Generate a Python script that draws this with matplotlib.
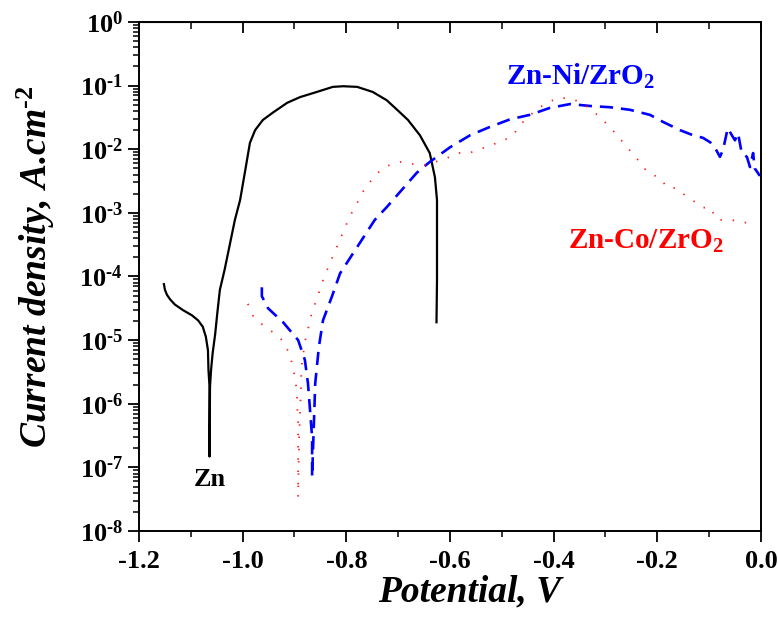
import numpy as np
import matplotlib.pyplot as plt
from matplotlib.ticker import MultipleLocator, LogLocator, NullFormatter, FuncFormatter

plt.rcParams['font.family'] = 'Liberation Serif'
plt.rcParams['font.weight'] = 'bold'
plt.rcParams['mathtext.fontset'] = 'custom'
plt.rcParams['mathtext.rm'] = 'Liberation Serif:bold'
plt.rcParams['mathtext.it'] = 'Liberation Serif:bold:italic'
plt.rcParams['mathtext.bf'] = 'Liberation Serif:bold'

# Zn (black, solid): potential in V, log10 of current density
zn_e = [-1.152, -1.150, -1.146, -1.140, -1.131, -1.115, -1.098, -1.086,
        -1.077, -1.071, -1.067, -1.066, -1.064, -1.064, -1.063, -1.061,
        -1.058, -1.053, -1.049, -1.044, -1.035, -1.015, -1.005, -0.995,
        -0.986, -0.976, -0.961, -0.941, -0.914, -0.889, -0.857, -0.826,
        -0.806, -0.779, -0.749, -0.722, -0.702, -0.681, -0.658, -0.639,
        -0.629, -0.625, -0.625, -0.626]
zn_logi = [-4.12, -4.21, -4.29, -4.36, -4.44, -4.53, -4.61, -4.69,
           -4.79, -4.95, -5.16, -5.47, -5.73, -6.83, -5.73, -5.47,
           -5.21, -4.90, -4.58, -4.21, -3.90, -3.11, -2.80, -2.33,
           -1.90, -1.70, -1.54, -1.42, -1.27, -1.18, -1.10, -1.02,
           -1.01, -1.02, -1.10, -1.23, -1.38, -1.54, -1.78, -2.06,
           -2.44, -2.80, -4.06, -4.72]

# Zn-Ni/ZrO2 (blue, dashed)
ni_e = [-0.963, -0.963, -0.951, -0.922, -0.893, -0.880, -0.874, -0.870,
        -0.866, -0.866, -0.860, -0.853, -0.845, -0.828, -0.812, -0.745,
        -0.722, -0.693, -0.664, -0.639, -0.600, -0.561, -0.523, -0.484,
        -0.446, -0.407, -0.368, -0.330, -0.291, -0.253, -0.214, -0.189,
        -0.156, -0.131, -0.112, -0.098, -0.089, -0.079, -0.073, -0.064,
        -0.056, -0.050, -0.044, -0.037, -0.027, -0.021, -0.015, -0.012,
        -0.006, -0.002]
ni_logi = [-4.17, -4.31, -4.50, -4.72, -5.00, -5.31, -5.68, -6.10,
           -6.53, -7.15, -5.68, -5.11, -4.69, -4.32, -3.95, -3.11,
           -2.91, -2.64, -2.37, -2.20, -1.97, -1.78, -1.65, -1.53,
           -1.46, -1.35, -1.29, -1.32, -1.34, -1.38, -1.46, -1.57,
           -1.70, -1.78, -1.82, -1.89, -1.97, -2.12, -2.01, -1.67,
           -1.78, -1.86, -1.75, -2.06, -2.12, -2.28, -2.06, -2.30,
           -2.37, -2.42]

# Zn-Co/ZrO2 (red, dotted)
co_e = [-0.990, -0.980, -0.963, -0.943, -0.924, -0.911, -0.903, -0.899,
        -0.895, -0.895, -0.893, -0.893, -0.893, -0.891, -0.889, -0.887,
        -0.887, -0.880, -0.874, -0.868, -0.860, -0.851, -0.843, -0.793,
        -0.781, -0.770, -0.756, -0.739, -0.720, -0.696, -0.673, -0.648,
        -0.606, -0.585, -0.563, -0.542, -0.519, -0.498, -0.478, -0.465,
        -0.451, -0.432, -0.411, -0.388, -0.363, -0.343, -0.324, -0.305,
        -0.286, -0.257, -0.237, -0.218, -0.195, -0.180, -0.162, -0.147,
        -0.127, -0.112, -0.098, -0.085, -0.060, -0.035, -0.015]
co_logi = [-4.43, -4.62, -4.75, -4.87, -5.00, -5.19, -5.41, -5.61,
           -5.82, -6.04, -6.24, -6.67, -7.47, -6.51, -6.08, -5.66,
           -5.46, -5.03, -4.83, -4.62, -4.42, -4.21, -4.01, -3.05,
           -2.88, -2.69, -2.53, -2.37, -2.26, -2.20, -2.23, -2.25,
           -2.14, -2.06, -2.06, -2.00, -1.93, -1.87, -1.78, -1.62,
           -1.51, -1.37, -1.26, -1.19, -1.21, -1.29, -1.40, -1.54,
           -1.70, -1.98, -2.17, -2.37, -2.45, -2.61, -2.61, -2.72,
           -2.83, -2.92, -2.91, -3.11, -3.11, -3.14, -3.19]

fig = plt.figure(figsize=(7.78, 6.19), dpi=100)
ax = fig.add_axes([0.1787, 0.1422, 0.7993, 0.8223])

ax.plot(zn_e, 10**np.array(zn_logi), color='black', lw=1.6)
ax.plot(ni_e, 10**np.array(ni_logi), color='#0000ff', lw=1.9, dashes=(5, 3))
ax.plot(co_e, 10**np.array(co_logi), color='#ff2020', lw=1.3, dashes=(0.8, 6))

ax.set_yscale('log')
ax.set_xlim(-1.2, 0.0)
ax.set_ylim(1e-8, 1)
ax.xaxis.set_major_locator(MultipleLocator(0.2))
ax.xaxis.set_minor_locator(MultipleLocator(0.1))
ax.xaxis.set_major_formatter(FuncFormatter(lambda v, p: f'{v:.1f}'.replace('\u2212', '-')))
ax.yaxis.set_major_locator(LogLocator(base=10, numticks=20))
ax.yaxis.set_minor_locator(LogLocator(base=10, subs=np.arange(2, 10), numticks=20))
ax.yaxis.set_minor_formatter(NullFormatter())


def log_fmt(v, p):
    e = int(round(np.log10(v)))
    s = str(e) if e >= 0 else r'\text{-}' + str(-e)
    return r'$\mathdefault{10^{%s}}$' % s


ax.yaxis.set_major_formatter(FuncFormatter(log_fmt))

ax.tick_params(axis='both', which='major', labelsize=19, width=1.3, length=8)
ax.tick_params(axis='x', which='major', pad=6)
ax.tick_params(axis='both', which='minor', width=1.1, length=4)
for sp in ax.spines.values():
    sp.set_linewidth(1.4)

top = ax.secondary_xaxis('top')
top.xaxis.set_major_locator(MultipleLocator(0.2))
top.xaxis.set_minor_locator(MultipleLocator(0.1))
top.tick_params(which='major', direction='in', length=8, width=1.3, labeltop=False)
top.tick_params(which='minor', direction='in', length=5, width=1.1)

ax.set_xlabel('Potential, V', fontsize=27, fontstyle='italic', fontweight='bold')
ax.xaxis.set_label_coords(0.532, -0.085)
ax.set_ylabel(r'Current density, A.cm$^{\text{-2}}$', fontsize=27,
              fontstyle='italic', fontweight='bold')
ax.yaxis.set_label_coords(-0.132, 0.519)

ax.text(-1.063, 6.5e-8, 'Zn', fontsize=19, ha='center', va='center', color='black')
ax.text(-0.347, 0.14, r'Zn-Ni/ZrO$_{\mathdefault{2}}$', fontsize=21, ha='center',
        va='center', color='#0000ff')
ax.text(-0.222, 3.5e-4, r'Zn-Co/ZrO$_{\mathdefault{2}}$', fontsize=21, ha='center',
        va='center', color='#ff0000')

fig.savefig('out.png', dpi=100)
